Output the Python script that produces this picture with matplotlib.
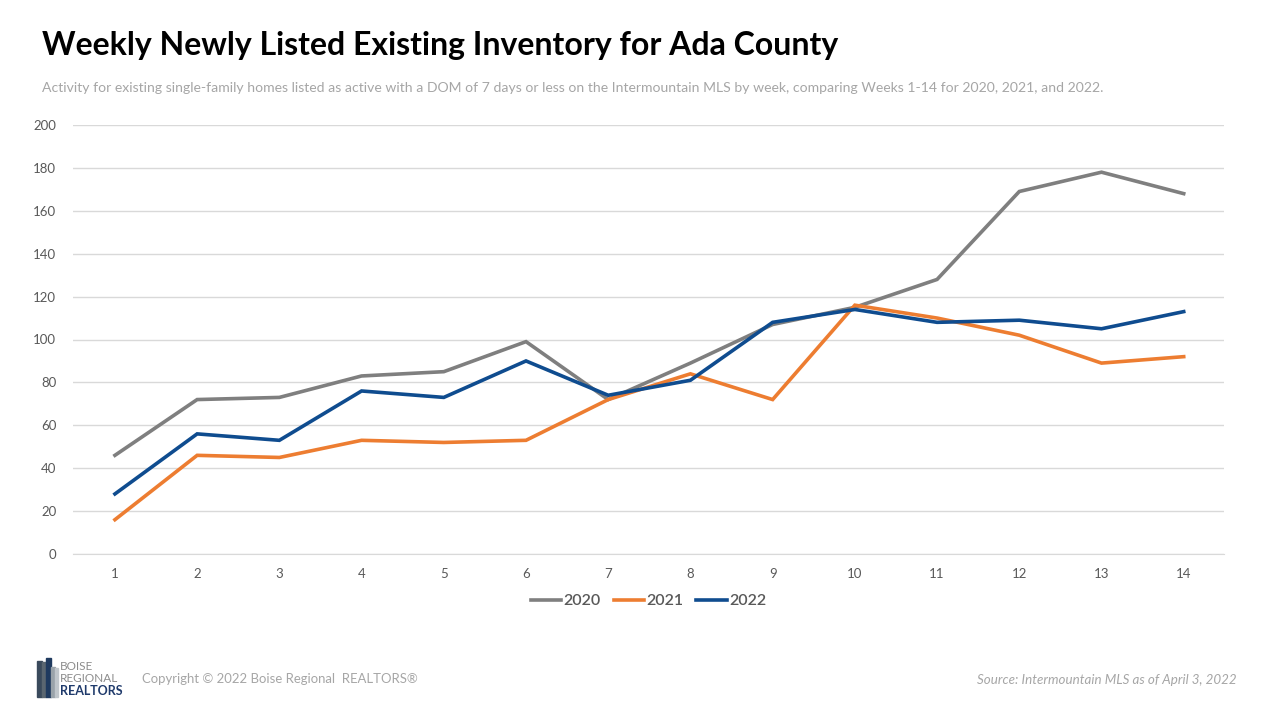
import matplotlib
matplotlib.use("Agg")
import matplotlib.pyplot as plt
from matplotlib.patches import Rectangle

weeks = list(range(1, 15))
y2020 = [46, 72, 73, 83, 85, 99, 72, 89, 107, 115, 128, 169, 178, 168]
y2021 = [16, 46, 45, 53, 52, 53, 72, 84, 72, 116, 110, 102, 89, 92]
y2022 = [28, 56, 53, 76, 73, 90, 74, 81, 108, 114, 108, 109, 105, 113]
series_labels = ["2020", "2021", "2022"]
colors = ["#7F7F7F", "#ED7D31", "#0F4C8F"]

plt.rcParams['font.family'] = ['Lato', 'DejaVu Sans']

fig = plt.figure(figsize=(12.8, 7.2), dpi=100)
ax = fig.add_axes([73/1280, 1-554/720, (1224-73)/1280, (554-125)/720])

for ys, lab, c in zip([y2020, y2021, y2022], series_labels, colors):
    ax.plot(weeks, ys, color=c, lw=2.6, label=lab, solid_joinstyle='miter')

ax.set_xlim(0.49, 14.49)
ax.set_ylim(0, 200)
ax.set_yticks(range(0, 201, 20))
ax.set_xticks(weeks)
ax.grid(axis='y', color='#D9D9D9', lw=1)
ax.set_axisbelow(True)
for s in ax.spines.values():
    s.set_visible(False)
ax.spines['bottom'].set_visible(True)
ax.spines['bottom'].set_color('#D9D9D9')
ax.tick_params(length=0, labelsize=9.5, labelcolor='#595959', pad=10)
ax.tick_params(axis='y', pad=12)

leg = ax.legend(loc='upper center', bbox_to_anchor=(0.5, -0.06), ncol=3, frameon=False,
                prop={'size': 11.5, 'weight': 'semibold'}, handlelength=1.9,
                columnspacing=0.8, handletextpad=0.15)
for t in leg.get_texts():
    t.set_color('#595959')

fig.text(42/1280, 1-46/720, "Weekly Newly Listed Existing Inventory for Ada County",
         fontsize=23, fontweight='bold', color='#000000', va='center', ha='left')
fig.text(42/1280, 1-88/720,
         "Activity for existing single-family homes listed as active with a DOM of 7 days or less on the Intermountain MLS by week, comparing Weeks 1-14 for 2020, 2021, and 2022.",
         fontsize=10.05, color='#A6A6A6', va='center', ha='left')

fig.text(142/1280, 1-679/720, "Copyright \u00a9 2022 Boise Regional  REALTORS\u00ae",
         fontsize=9.45, color='#A6A6A6', va='center', ha='left')
fig.text(1237/1280, 1-680/720, "Source: Intermountain MLS as of April 3, 2022",
         fontsize=9.6, color='#A6A6A6', va='center', ha='right', style='italic')

# logo
bars = [(37, 661, 5, '#3A4A5C'), (42, 662, 4, '#5A6670'), (46, 658, 5, '#1F3A5F'),
        (51, 667, 4, '#9AA3AA'), (55, 668, 3, '#C0C6CB')]
for x, top, w, c in bars:
    fig.patches.append(Rectangle((x/1280, 1-697/720), w/1280, (697-top)/720,
                                 transform=fig.transFigure, color=c))
fig.text(60/1280, 1-666/720, "BOISE", fontsize=8.5, color='#8C8C8C', va='center', ha='left')
fig.text(60/1280, 1-678/720, "REGIONAL", fontsize=8.5, color='#8C8C8C', va='center', ha='left')
fig.text(60/1280, 1-691/720, "REALTORS", fontsize=9, fontweight='bold', color='#1F3A6B',
         va='center', ha='left')

fig.savefig("out.png", dpi=100)
